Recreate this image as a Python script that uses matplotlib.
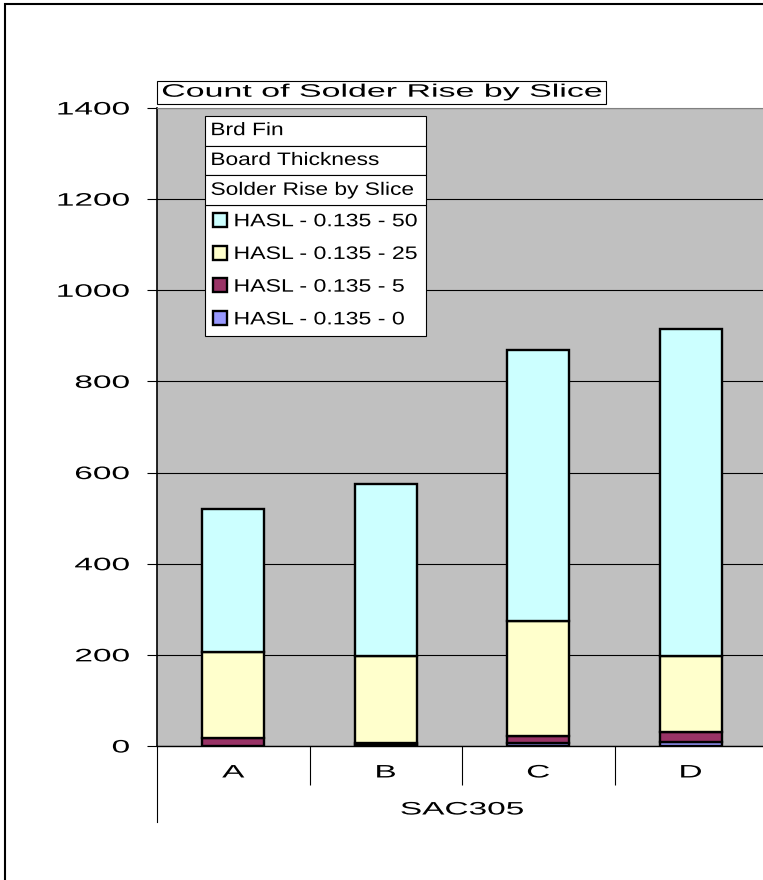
import numpy as np
import matplotlib.pyplot as plt
import matplotlib.patheffects as pe
from matplotlib.transforms import Affine2D, blended_transform_factory
from matplotlib.patches import Rectangle

# Datos (conteo por slice)
slices = ['A', 'B', 'C', 'D']
group = 'SAC305'
series = ['HASL - 0.135 - 0', 'HASL - 0.135 - 5', 'HASL - 0.135 - 25', 'HASL - 0.135 - 50']
rise_0 = [0, 2, 6, 8]
rise_5 = [17, 5, 15, 23]
rise_25 = [190, 191, 253, 166]
rise_50 = [313, 377, 595, 718]
colors = ['#9999FF', '#993366', '#FFFFCC', '#CCFFFF']
fields = ['Brd Fin', 'Board Thickness', 'Solder Rise by Slice']
title = 'Count of Solder Rise by Slice'
yticks = [0, 200, 400, 600, 800, 1000, 1200, 1400]

plt.rcParams['font.family'] = ['Liberation Sans', 'DejaVu Sans']
plt.rcParams['font.size'] = 13


class Stretch(pe.AbstractPathEffect):
    # el texto de Excel sale ensanchado horizontalmente
    def __init__(self, sx, anchor='left'):
        super().__init__()
        self.sx = sx
        self.anchor = anchor

    def draw_path(self, renderer, gc, tpath, affine, rgbFace=None):
        ext = tpath.get_extents()
        x0 = {'left': ext.x0, 'center': (ext.x0 + ext.x1) / 2, 'right': ext.x1}[self.anchor]
        t = Affine2D().translate(-x0, 0).scale(self.sx, 1).translate(x0, 0) + affine
        renderer.draw_path(gc, tpath, t, rgbFace)


W, H = 763, 880


def fx(px):
    return px / W


def fy(py):
    return 1 - py / H


fig = plt.figure(figsize=(W / 100, H / 100), dpi=100)
ax = fig.add_axes([fx(157), fy(746), 610 / W, 638 / H])
ax.set_facecolor('#C0C0C0')

# barras apiladas
x = np.arange(len(slices))
bottom = np.zeros(len(slices))
bars = []
for vals, c, lab in zip([rise_0, rise_5, rise_25, rise_50], colors, series):
    b = ax.bar(x, vals, 0.405, bottom=bottom, color=c, edgecolor='black', linewidth=1.7, label=lab)
    bars.append(b)
    bottom += np.array(vals)

ax.set_xlim(-0.5, len(slices) - 0.5)
ax.set_ylim(0, 1400)
ax.set_yticks(yticks)
ax.yaxis.grid(True, color='black', linewidth=0.8)
ax.set_axisbelow(True)

ax.spines['right'].set_visible(False)
ax.spines['top'].set_color('#808080')
ax.spines['left'].set_linewidth(1.2)
ax.spines['bottom'].set_linewidth(1.0)

ax.tick_params(axis='y', length=7.5, width=0.8, pad=12.2, labelsize=13)
ax.set_xticks(x[:-1] + 0.5)
ax.set_xticklabels([])
ax.set_xticks(x, labels=slices, minor=True)
ax.tick_params(axis='x', which='major', length=28, width=0.8, direction='out')
ax.tick_params(axis='x', which='minor', length=0, pad=13.3, labelsize=13)

for t in ax.yaxis.get_major_ticks():
    t.label1.set_path_effects([Stretch(1.85, 'right')])
for t in ax.xaxis.get_minor_ticks():
    t.label1.set_path_effects([Stretch(1.85, 'center')])

# etiqueta de grupo y sus separadores
tr = blended_transform_factory(ax.transData, ax.transAxes)
ax.text(np.mean(x), -64 / 638, group, transform=tr, ha='center', va='center',
        fontsize=13, path_effects=[Stretch(1.85, 'center')])
for gx in [0, 1]:
    ax.plot([gx, gx], [0, -76 / 638], transform=ax.transAxes, clip_on=False,
            color='black', linewidth=0.8)

# leyenda
leg = ax.legend(bars[::-1], series[::-1], loc='upper left',
                bbox_to_anchor=(fx(205), fy(335.3), 221 / W, 130 / H),
                bbox_transform=fig.transFigure, mode='expand', borderaxespad=0,
                borderpad=0.43, handlelength=0.8, handleheight=0.8,
                handletextpad=0.37, labelspacing=0.86, fancybox=False,
                framealpha=1, edgecolor='black', fontsize=13)
leg.get_frame().set_linewidth(0.8)
for t in leg.get_texts():
    t.set_path_effects([Stretch(1.28)])

# botones de campo sobre la leyenda
row = 29.87
for i, name in enumerate(fields):
    top = 115.7 + i * row
    fig.patches.append(Rectangle((fx(205), fy(top + row)), 221 / W, row / H,
                                 transform=fig.transFigure, facecolor='white',
                                 edgecolor='black', linewidth=0.8))
    fig.text(fx(210.7), fy(top + row / 2), name, ha='left', va='center',
             fontsize=13, path_effects=[Stretch(1.26)])

# titulo en caja
fig.patches.append(Rectangle((fx(156.6), fy(103.7)), 449 / W, 23 / H,
                             transform=fig.transFigure, facecolor='white',
                             edgecolor='black', linewidth=0.8))
fig.text(fx(162), fy(92.2), title, ha='left', va='center', fontsize=13,
         path_effects=[Stretch(1.88)])

# borde del area del grafico
fig.patches.append(Rectangle((fx(5), -0.5), 2, 0.5 + fy(4), transform=fig.transFigure,
                             fill=False, edgecolor='black', linewidth=1.5))

fig.savefig('out.png', dpi=100)
